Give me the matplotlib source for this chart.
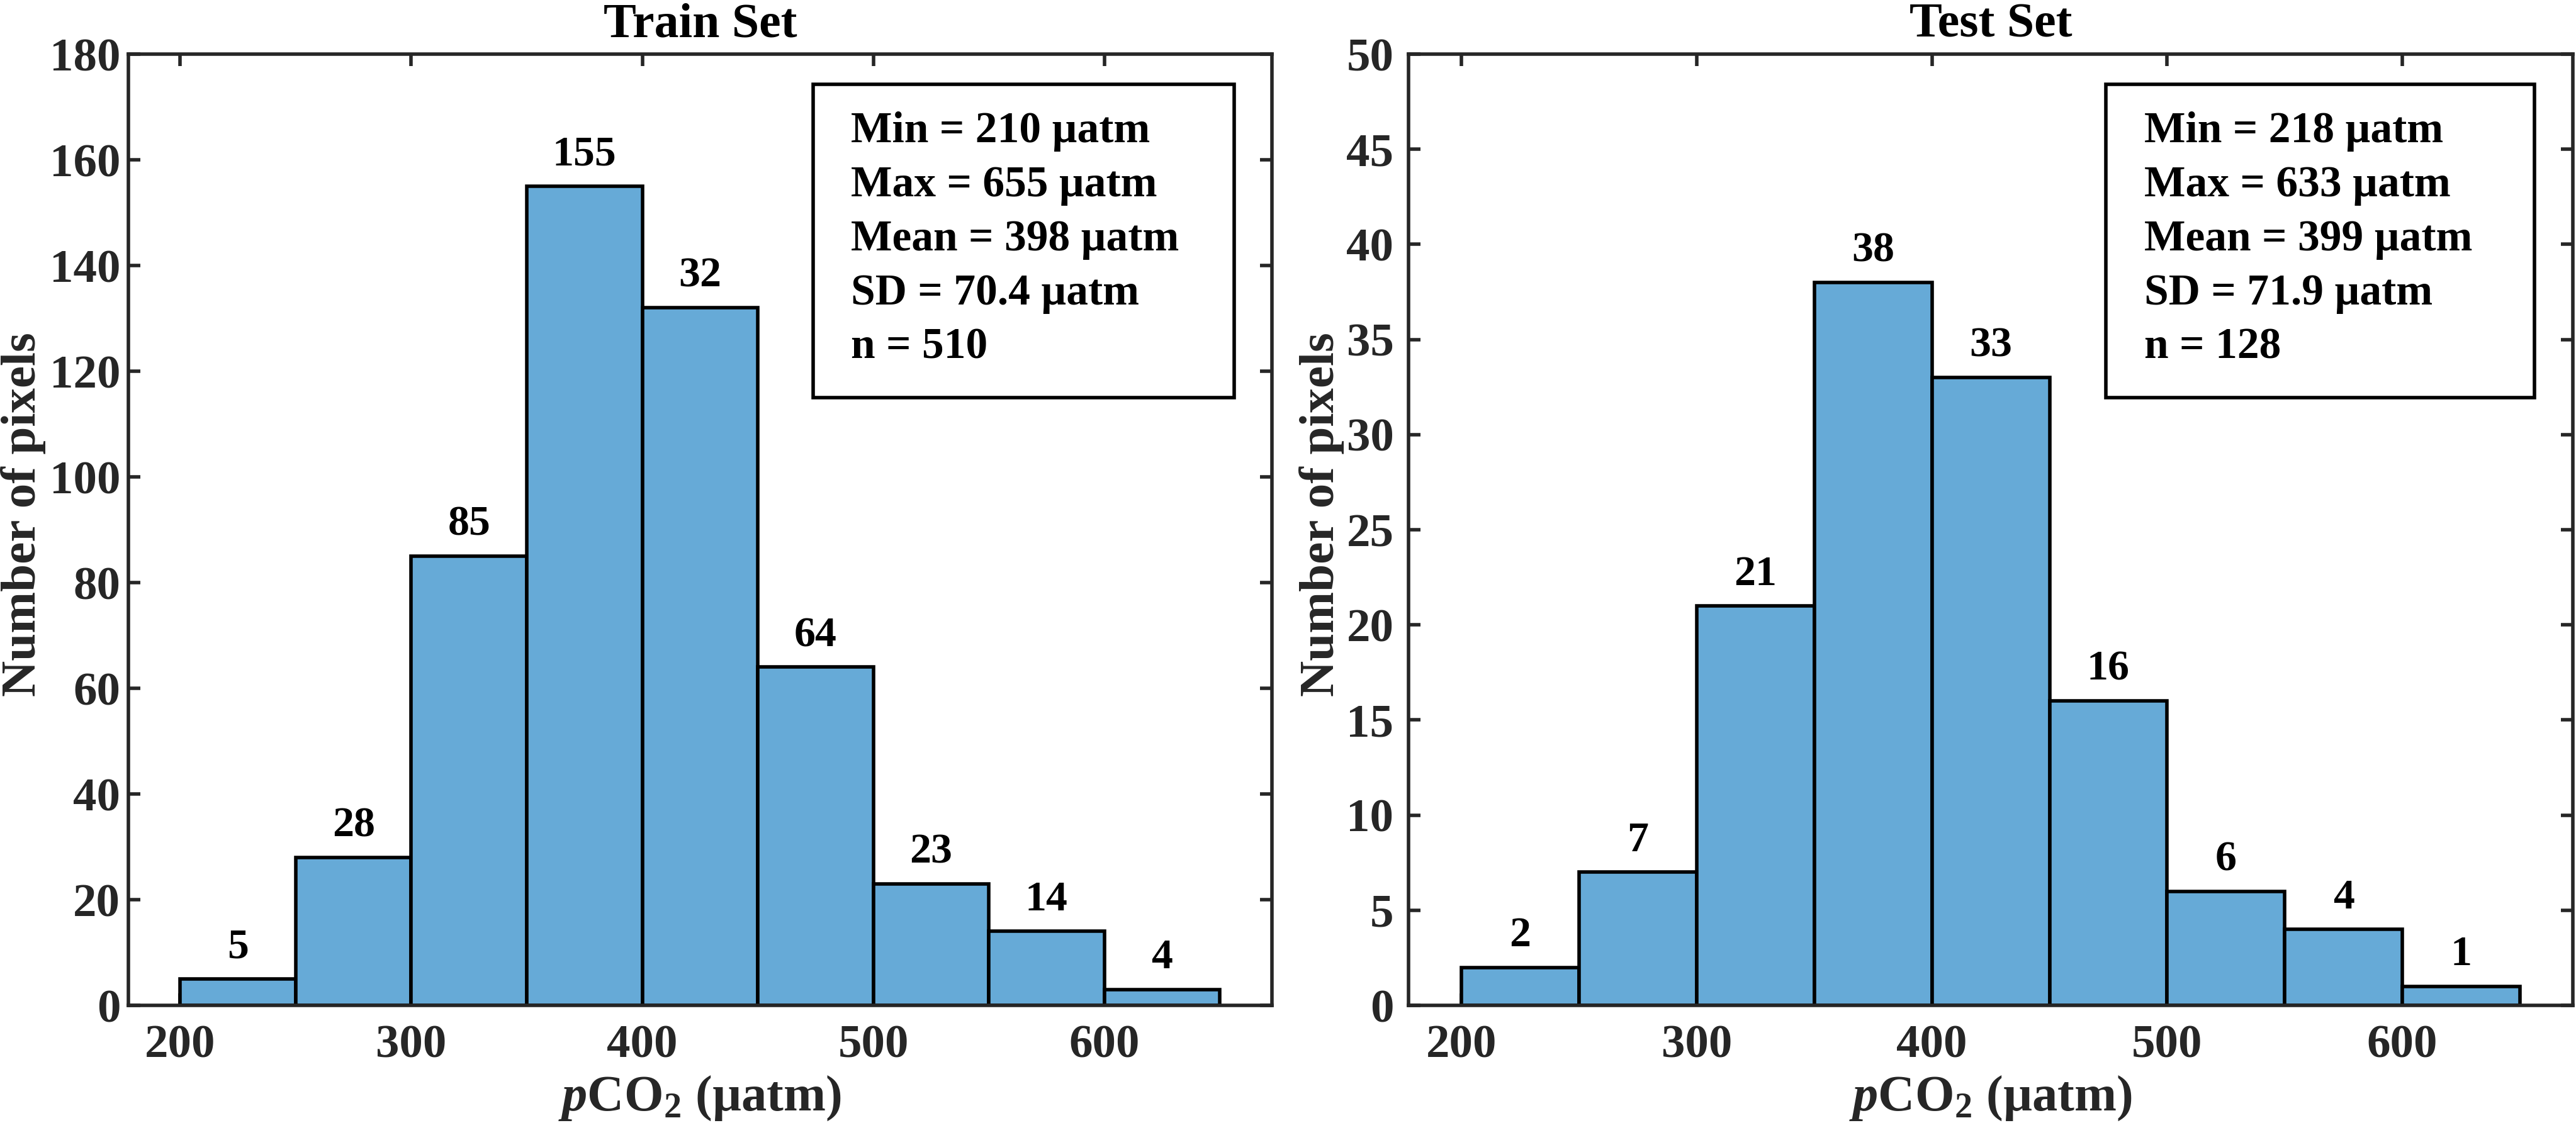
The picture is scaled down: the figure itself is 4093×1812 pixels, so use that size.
import matplotlib
matplotlib.use('Agg')
import matplotlib.pyplot as plt
from matplotlib.patches import Rectangle

# bin edges shared by both histograms (µatm)
bin_edges = [200, 250, 300, 350, 400, 450, 500, 550, 600, 650]

train_counts = [5, 28, 85, 155, 132, 64, 23, 14, 3]
train_labels = ['5', '28', '85', '155', '32', '64', '23', '14', '4']
train_stats = ['Min = 210 µatm', 'Max = 655 µatm', 'Mean = 398 µatm',
               'SD = 70.4 µatm', 'n = 510']
train_yticks = list(range(0, 181, 20))

test_counts = [2, 7, 21, 38, 33, 16, 6, 4, 1]
test_labels = ['2', '7', '21', '38', '33', '16', '6', '4', '1']
test_stats = ['Min = 218 µatm', 'Max = 633 µatm', 'Mean = 399 µatm',
              'SD = 71.9 µatm', 'n = 128']
test_yticks = list(range(0, 51, 5))

xticks = [200, 300, 400, 500, 600]

plt.rcParams['font.family'] = 'Liberation Serif'
plt.rcParams['font.weight'] = 'bold'
plt.rcParams['mathtext.fontset'] = 'custom'
plt.rcParams['mathtext.rm'] = 'Liberation Serif:bold'
plt.rcParams['mathtext.it'] = 'Liberation Serif:italic:bold'
plt.rcParams['mathtext.bf'] = 'Liberation Serif:bold'

AX_COL = '#262626'
BAR_COL = '#66aad7'

fig = plt.figure(figsize=(40.93, 18.12), dpi=100)


def draw_hist(rect, counts, labels, stats, yticks, title, ytick_pad, ylab_x):
    ax = fig.add_axes(rect)
    widths = [b - a for a, b in zip(bin_edges[:-1], bin_edges[1:])]
    ax.bar(bin_edges[:-1], counts, width=widths, align='edge',
           color=BAR_COL, edgecolor='black', linewidth=4, zorder=2)

    for left, w, h, lab in zip(bin_edges[:-1], widths, counts, labels):
        ax.annotate(lab, (left + w / 2, h), xytext=(0, 24),
                    textcoords='offset points', ha='center', va='baseline',
                    fontsize=49, fontweight='bold', color='black')

    ax.set_xlim(177.5, 672.5)
    ax.set_ylim(0, yticks[-1])
    ax.set_xticks(xticks)
    ax.set_yticks(yticks)

    for s in ax.spines.values():
        s.set_linewidth(4)
        s.set_color(AX_COL)
        s.set_zorder(3)
    ax.tick_params(direction='in', length=14, width=4, color=AX_COL,
                   top=True, right=True, labelsize=54, labelcolor=AX_COL)
    ax.tick_params(axis='x', pad=22)
    ax.tick_params(axis='y', pad=ytick_pad)

    ax.set_title(title, fontsize=56, fontweight='bold', pad=20)
    ax.set_xlabel(r'$\mathit{p}\mathrm{CO_2}$ (µatm)', fontsize=58,
                  fontweight='bold', color=AX_COL, labelpad=8)
    ax.set_ylabel('Number of pixels', fontsize=57, fontweight='bold',
                  color=AX_COL)
    ax.yaxis.set_label_coords(ylab_x, 0.516)

    # statistics box
    ax.add_patch(Rectangle((0.599, 0.639), 0.368, 0.329, transform=ax.transAxes,
                           fill=True, facecolor='white', edgecolor='black',
                           linewidth=4, zorder=4))
    for i, line in enumerate(stats):
        ax.text(0.632, 0.9074 - i * 0.0568, line, transform=ax.transAxes,
                ha='left', va='baseline', fontsize=50, fontweight='bold',
                color='black', zorder=5)
    return ax


draw_hist([0.0498, 0.1181, 0.4439, 0.8344], train_counts, train_labels,
          train_stats, train_yticks, 'Train Set', 9, -0.072)
draw_hist([0.5468, 0.1181, 0.4520, 0.8344], test_counts, test_labels,
          test_stats, test_yticks, 'Test Set', 17, -0.055)

fig.savefig('out.png', dpi=100)
